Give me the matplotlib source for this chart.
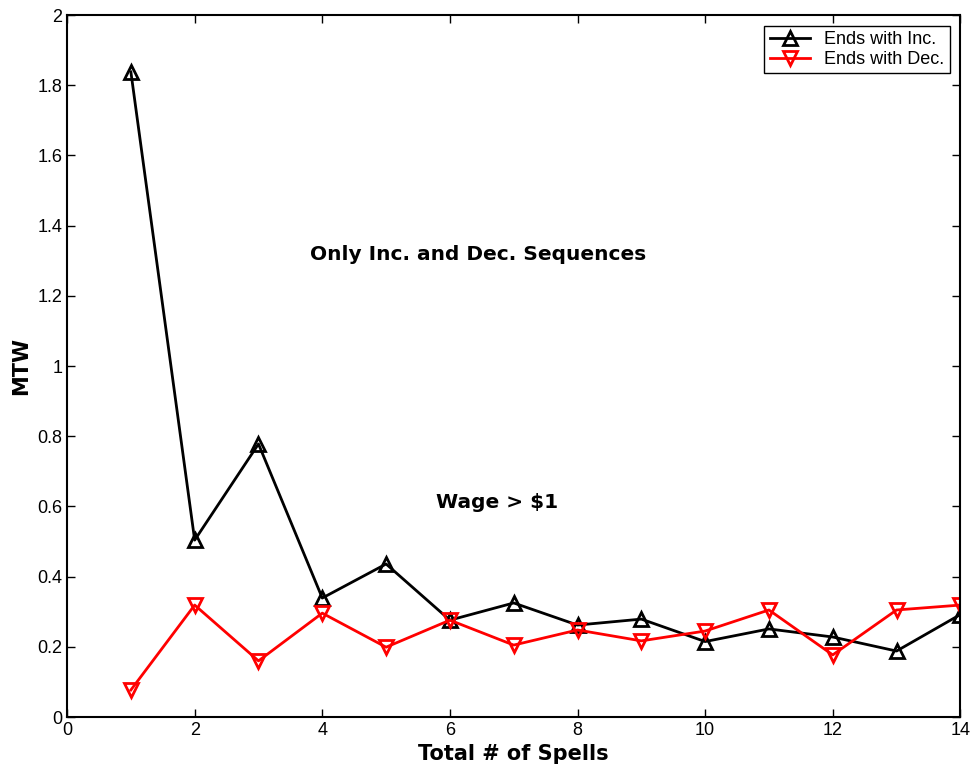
import matplotlib
matplotlib.use("Agg")
import matplotlib.pyplot as plt

spells = [1, 2, 3, 4, 5, 6, 7, 8, 9, 10, 11, 12, 13, 14]
ends_inc = [1.838, 0.504, 0.778, 0.339, 0.436, 0.276, 0.325, 0.262, 0.279, 0.215, 0.251, 0.228, 0.188, 0.292]
ends_dec = [0.077, 0.319, 0.160, 0.296, 0.199, 0.276, 0.205, 0.248, 0.217, 0.245, 0.305, 0.177, 0.305, 0.319]

fig = plt.figure(figsize=(9.72, 7.74), dpi=100)
ax = fig.add_axes([0.069, 0.0736, 0.919, 0.907])

ax.plot(spells, ends_inc, color="black", lw=2, marker="^", ms=10, mfc="none",
        mec="black", mew=2, label="Ends with Inc.")
ax.plot(spells, ends_dec, color="red", lw=2, marker="v", ms=10, mfc="none",
        mec="red", mew=2, label="Ends with Dec.")

ax.set_xlim(0, 14)
ax.set_ylim(0, 2)
ax.set_xticks(range(0, 15, 2))
ax.set_yticks([0, 0.2, 0.4, 0.6, 0.8, 1, 1.2, 1.4, 1.6, 1.8, 2])
ax.set_yticklabels(["0", "0.2", "0.4", "0.6", "0.8", "1", "1.2", "1.4", "1.6", "1.8", "2"])
ax.tick_params(direction="in", length=6, width=1, labelsize=13, top=True, right=True)
for lab in ax.get_xticklabels() + ax.get_yticklabels():
    lab.set_family("Liberation Sans")
for s in ax.spines.values():
    s.set_linewidth(1.5)

ax.set_xlabel("Total # of Spells", fontsize=15, fontweight="bold", labelpad=4)
ax.set_ylabel("MTW", fontsize=15, fontweight="bold", labelpad=4)

ax.text(6.44, 1.319, "Only Inc. and Dec. Sequences", fontsize=14.5, fontweight="bold",
        ha="center", va="center")
ax.text(6.74, 0.61, "Wage > $1", fontsize=14.5, fontweight="bold", ha="center", va="center")

leg = ax.legend(loc="upper right", prop={"family": "Liberation Sans", "size": 13},
                frameon=True, fancybox=False, framealpha=1,
                edgecolor="black", handlelength=2.2, borderaxespad=0.6,
                borderpad=0.3, labelspacing=0.15)
leg.get_frame().set_linewidth(1)

fig.savefig("out.png", dpi=100)
